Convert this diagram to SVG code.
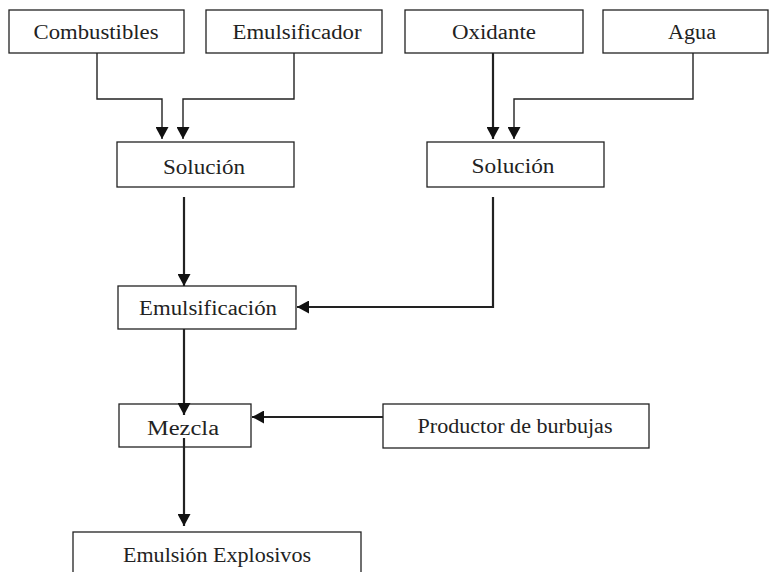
<svg xmlns="http://www.w3.org/2000/svg" width="769" height="572" viewBox="0 0 769 572">
<style>
.box{fill:#fff;stroke:#222;stroke-width:1.3}
.t{font-family:"Liberation Serif","Times New Roman",serif;font-size:20px;fill:#222;text-anchor:middle}
.c{fill:none;stroke:#222;stroke-width:1.4}
.k{stroke-width:2.2}
</style>
<defs>
<marker id="ah" viewBox="0 0 12 13" refX="12" refY="6.5" markerWidth="12" markerHeight="13" markerUnits="userSpaceOnUse" orient="auto">
<path d="M0,0 L12,6.5 L0,13 z" fill="#111"/>
</marker>
</defs>
<rect width="769" height="572" fill="#fff"/>
<g id="combustibles"><rect class="box" x="9" y="10" width="175" height="43"/><text class="t" x="96" y="39" textLength="125" lengthAdjust="spacingAndGlyphs">Combustibles</text></g>
<g id="emulsificador"><rect class="box" x="206" y="10" width="176" height="43"/><text class="t" x="297" y="39" textLength="129" lengthAdjust="spacingAndGlyphs">Emulsificador</text></g>
<g id="oxidante"><rect class="box" x="405" y="10" width="178" height="43"/><text class="t" x="494" y="39" textLength="84" lengthAdjust="spacingAndGlyphs">Oxidante</text></g>
<g id="agua"><rect class="box" x="603" y="10" width="165" height="43"/><text class="t" x="692" y="39" textLength="48" lengthAdjust="spacingAndGlyphs">Agua</text></g>
<g id="solucion1"><rect class="box" x="117" y="142" width="177" height="45"/><text class="t" x="204" y="174" textLength="82" lengthAdjust="spacingAndGlyphs">Solución</text></g>
<g id="solucion2"><rect class="box" x="427" y="142" width="177" height="45"/><text class="t" x="513" y="173" textLength="83" lengthAdjust="spacingAndGlyphs">Solución</text></g>
<g id="emulsificacion"><rect class="box" x="118" y="286" width="178" height="43"/><text class="t" x="208" y="315" textLength="138" lengthAdjust="spacingAndGlyphs">Emulsificación</text></g>
<g id="mezcla"><rect class="box" x="119" y="404" width="132" height="43"/><text class="t" x="183" y="435" textLength="72" lengthAdjust="spacingAndGlyphs">Mezcla</text></g>
<g id="productor"><rect class="box" x="383" y="404" width="266" height="44"/><text class="t" x="515" y="433" textLength="195" lengthAdjust="spacingAndGlyphs">Productor de burbujas</text></g>
<g id="emulsion"><rect class="box" x="73" y="532" width="288" height="50"/><text class="t" x="217" y="562" textLength="188" lengthAdjust="spacingAndGlyphs">Emulsión Explosivos</text></g>
<g id="connectors">
<path class="c" d="M97,53 V99 H162 V139" marker-end="url(#ah)"/>
<path class="c" d="M294,53 V99 H183 V139" marker-end="url(#ah)"/>
<path class="c k" d="M493,53 V139" marker-end="url(#ah)"/>
<path class="c" d="M693,53 V99 H514 V139" marker-end="url(#ah)"/>
<path class="c k" d="M184,197 V286" marker-end="url(#ah)"/>
<path class="c k" d="M493,197 V307 H297" marker-end="url(#ah)"/>
<path class="c k" d="M184,329 V415" marker-end="url(#ah)"/>
<path class="c k" d="M383,417 H252" marker-end="url(#ah)"/>
<path class="c k" d="M184,438 V526" marker-end="url(#ah)"/>
</g>
</svg>
